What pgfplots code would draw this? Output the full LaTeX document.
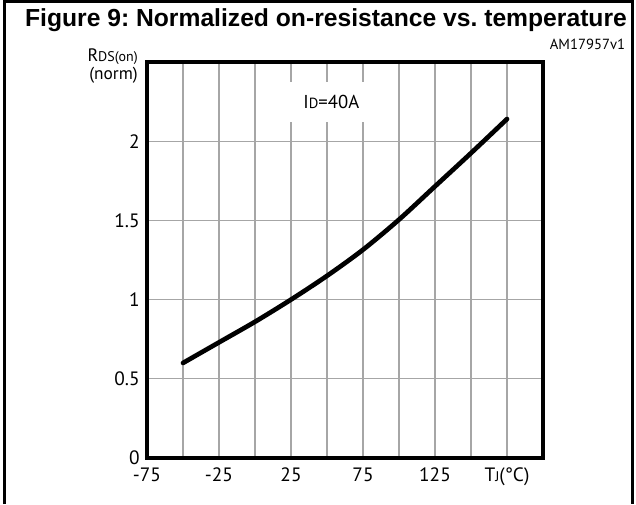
\documentclass[border=0pt]{standalone}
\usepackage{pgfplots}
\pgfplotsset{compat=1.18}
\usepackage{fontspec}
\setmainfont{PT Sans}
\newfontfamily\titlefont{Liberation Sans}
\begin{document}
\frenchspacing
\begin{tikzpicture}
\useasboundingbox (0,0) rectangle (477pt,378pt);
\draw[line width=2.25pt] (3pt,0) -- (3pt,376.9pt) -- (474pt,376.9pt) -- (474pt,0);
\node[font=\titlefont\bfseries\fontsize{18.5}{20}\selectfont] at (244.5pt,363pt) {Figure 9: Normalized on-resistance vs. temperature};
\node[anchor=east,font=\fontsize{11}{13}\selectfont,inner sep=0pt] at (469pt,345pt) {AM17957v1};
\node[anchor=east,font=\fontsize{13.5}{15}\selectfont,inner sep=0pt] at (103.5pt,335.5pt) {R{\fontsize{10.5}{12}\selectfont DS(on)}};
\node[anchor=east,font=\fontsize{13}{15}\selectfont,inner sep=0pt] at (103.5pt,321.5pt) {(norm)};
\begin{axis}[
  at={(110.25pt,34.5pt)}, anchor=south west,
  scale only axis, width=297pt, height=297pt,
  xmin=-75, xmax=200, ymin=0, ymax=2.5,
  axis line style={line width=3.5pt},
  xtick={-75,-25,25,75,125,175},
  xticklabels={-75,-25,25,75,125,{T{\fontsize{10.5}{12}\selectfont J}(°C)}},
  minor xtick={-50,-25,...,175},
  ytick={0,0.5,1,1.5,2},
  yticklabels={0,0.5,1,1.5,2},
  major tick length=0pt, minor tick length=0pt,
  xmajorgrids, xminorgrids, ymajorgrids,
  grid style={black!35, line width=0.8pt},
  minor grid style={black!35, line width=0.8pt},
  tick label style={font=\fontsize{14.5}{16}\selectfont},
  xticklabel style={yshift=-4pt},
  yticklabel style={xshift=-2pt},
  clip=false,
]
\node[fill=white, minimum width=68pt, minimum height=30pt, inner sep=0pt, font=\fontsize{14}{15}\selectfont] at (axis cs:53,2.25) {I{\fontsize{11}{12}\selectfont D}=40A};
\addplot[black, line width=3.5pt, smooth, line cap=round] coordinates {
(-50,0.60) (-25,0.73) (0,0.86) (25,1.00) (50,1.15) (75,1.315) (100,1.505) (125,1.715) (150,1.925) (175,2.14)
};
\end{axis}
\end{tikzpicture}
\end{document}
